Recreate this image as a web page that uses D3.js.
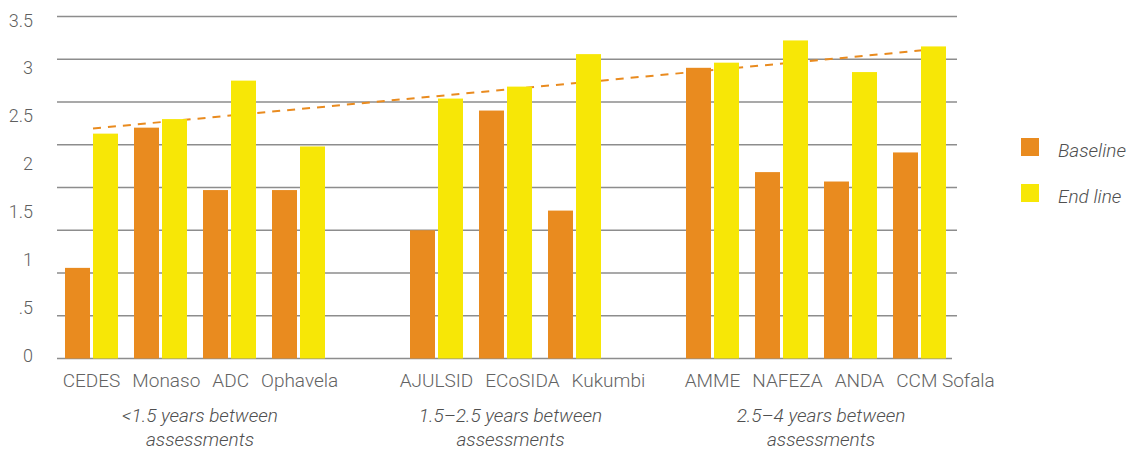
<!DOCTYPE html>
<html>
<head>
<meta charset="utf-8">
<script src="https://cdn.jsdelivr.net/npm/d3@7"></script>
<style>
  html, body { margin: 0; padding: 0; background: #fff; }
  svg { display: block; }
</style>
</head>
<body>
<svg id="chart" width="1130" height="453"></svg>
<script>
// ---- data ----
const categories = ["CEDES", "Monaso", "ADC", "Ophavela", "AJULSID", "ECoSIDA", "Kukumbi", "AMME", "NAFEZA", "ANDA", "CCM Sofala"];
const categoryGroup = [0, 0, 0, 0, 1, 1, 1, 2, 2, 2, 2];
const baselineValues = [1.06, 2.70, 1.97, 1.97, 1.50, 2.90, 1.73, 3.40, 2.18, 2.07, 2.41];
const endlineValues  = [2.63, 2.80, 3.25, 2.48, 3.04, 3.18, 3.56, 3.46, 3.72, 3.35, 3.65];
const groupLabels = [
  ["<1.5 years between", "assessments"],
  ["1.5\u20132.5 years between", "assessments"],
  ["2.5\u20134 years between", "assessments"]
];
const gridValues = [0, 0.5, 1, 1.5, 2, 2.5, 3, 3.5, 4];
const tickValues = [0, 0.5, 1, 1.5, 2, 2.5, 3, 3.5];
const tickLabels = ["0", ".5", "1", "1.5", "2", "2.5", "3", "3.5"];
const trendValues = [2.69, 3.63];
const seriesNames = ["Baseline", "End line"];

// ---- styles ----
const colors = { "Baseline": "#E98B1F", "End line": "#F7E706" };
const gridColor = "#8d8d8d";
const FONT = "Roboto, 'Open Sans', sans-serif";

const svg = d3.select("#chart");

// slot domain: categories with an empty slot between groups
const slots = [];
categories.forEach((c, i) => {
  if (i > 0 && categoryGroup[i] !== categoryGroup[i - 1]) slots.push("__gap" + i);
  slots.push(c);
});

const x = d3.scaleBand().domain(slots).range([57, 954]).paddingInner(16 / 69).paddingOuter(8 / 69);
const xInner = d3.scaleBand().domain(seriesNames).range([0, x.bandwidth()]).paddingInner(3 / 28).paddingOuter(0);
const y = d3.scaleLinear().domain([0, 4]).range([358.5, 16.5]);
const yLabel = d3.scaleLinear().domain([0, 3.5]).range([355, 20]);

// gridlines
svg.append("g").selectAll("line").data(gridValues).join("line")
  .attr("x1", 57).attr("x2", d => d === 0 ? 952 : 957)
  .attr("y1", d => y(d)).attr("y2", d => y(d))
  .attr("stroke", gridColor).attr("stroke-width", 1.4);

// tick labels
svg.append("g").selectAll("text").data(tickValues).join("text")
  .attr("x", 33).attr("y", d => yLabel(d))
  .attr("text-anchor", "end").attr("dominant-baseline", "central")
  .attr("font-family", FONT).attr("font-weight", 300)
  .attr("font-size", 18).attr("fill", "#5f5f5f")
  .text((d, i) => tickLabels[i]);

// dashed trend line (behind bars)
const firstCat = categories[0], lastCat = categories[categories.length - 1];
const trendPts = [
  [x(firstCat) + xInner("End line"), y(trendValues[0])],
  [x(lastCat) + xInner("End line") + xInner.bandwidth(), y(trendValues[1])]
];
svg.append("path").datum(trendPts)
  .attr("d", d3.line())
  .attr("fill", "none").attr("stroke", "#E98B1F")
  .attr("stroke-width", 2).attr("stroke-dasharray", "8,7");

// bars
const rows = categories.map((c, i) => ({ cat: c, values: [
  { series: "Baseline", v: baselineValues[i] },
  { series: "End line", v: endlineValues[i] }
]}));
svg.append("g").selectAll("g").data(rows).join("g")
  .attr("transform", d => `translate(${x(d.cat)},0)`)
  .selectAll("rect").data(d => d.values).join("rect")
  .attr("x", d => xInner(d.series)).attr("width", xInner.bandwidth())
  .attr("y", d => y(d.v)).attr("height", d => y(0) - y(d.v))
  .attr("fill", d => colors[d.series]);

// category labels
const catText = svg.append("g").selectAll("text").data(categories).join("text")
  .attr("x", d => x(d) + x.bandwidth() / 2).attr("y", 386.5)
  .attr("text-anchor", "middle")
  .attr("font-family", FONT).attr("font-weight", 300)
  .attr("font-size", 19).attr("fill", "#636363")
  .text(d => d);
// resolve overlaps left to right
let prevEnd = -Infinity;
catText.each(function () {
  const w = this.getComputedTextLength();
  let cx = +this.getAttribute("x");
  if (cx - w / 2 < prevEnd + 12) cx = prevEnd + 12 + w / 2;
  this.setAttribute("x", cx);
  prevEnd = cx + w / 2;
});

// group labels
groupLabels.forEach((lines, g) => {
  const members = categories.filter((c, i) => categoryGroup[i] === g);
  const cx = d3.mean(members, c => x(c) + x.bandwidth() / 2) + 5;
  const t = svg.append("text")
    .attr("text-anchor", "middle")
    .attr("font-family", FONT).attr("font-style", "italic")
    .attr("font-weight", 300)
    .attr("font-size", 19).attr("fill", "#4f4f4f");
  lines.forEach((ln, k) => {
    t.append("tspan").attr("x", cx).attr("y", 421.5 + k * 24).text(ln);
  });
});

// legend
const legend = svg.append("g").attr("transform", "translate(1021,138)");
const li = legend.selectAll("g").data(seriesNames).join("g")
  .attr("transform", (d, i) => `translate(0,${i * 46})`);
li.append("rect").attr("width", 18).attr("height", 18).attr("fill", d => colors[d]);
li.append("text").attr("x", 37).attr("y", 18.5)
  .attr("font-family", FONT).attr("font-style", "italic")
  .attr("font-weight", 300)
  .attr("font-size", 19).attr("fill", "#4f4f4f")
  .text(d => d);
</script>
</body>
</html>
